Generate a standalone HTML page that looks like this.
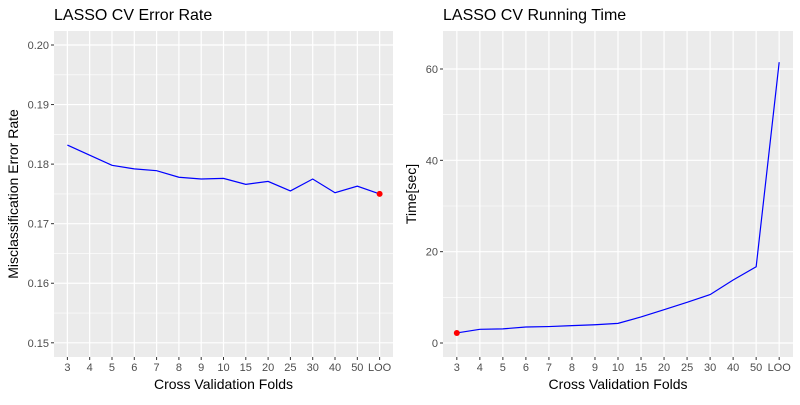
<!DOCTYPE html>
<html><head><meta charset="utf-8"><style>
body{margin:0;background:#fff;font-family:"Liberation Sans",sans-serif}
</style></head><body>
<svg id="c" width="800" height="400" xmlns="http://www.w3.org/2000/svg"></svg>
<script>
const categories=["3","4","5","6","7","8","9","10","15","20","25","30","40","50","LOO"];
const errorRate=[0.1832,0.1815,0.1798,0.1792,0.1789,0.1778,0.1775,0.1776,0.1766,0.1771,0.1755,0.1775,0.1752,0.1763,0.1750];
const runTime=[2.2,3.0,3.1,3.5,3.6,3.8,4.0,4.3,5.7,7.3,8.9,10.6,13.8,16.7,61.5];
const errTicks=[0.15,0.16,0.17,0.18,0.19,0.20];
const timeTicks=[0,20,40,60];
const svg=document.getElementById('c');
const NS='http://www.w3.org/2000/svg';
function mk(t,a,p){const e=document.createElementNS(NS,t);for(const k in a)e.setAttribute(k,a[k]);(p||svg).appendChild(e);return e;}
function panel(o){
  const g=mk('g',{});
  
  
  const n=categories.length,step=(o.x1-o.x0)/(n-1+1.2);
  const xs=i=>o.x0+step*(0.6+i);
  const ys=v=>o.y0v+(v-o.v0)*(o.y1v-o.y0v)/(o.v1-o.v0);
  const bg=mk('rect',{x:o.x0,y:o.top,width:o.x1-o.x0,height:o.bot-o.top,fill:'#ebebeb'},g);
  
  for(let i=0;i<o.ticks.length-1;i++){const m=(o.ticks[i]+o.ticks[i+1])/2;mk('line',{x1:o.x0,x2:o.x1,y1:ys(m),y2:ys(m),stroke:'#fff','stroke-width':0.6},g);}
  o.ticks.forEach(t=>{const y=ys(t);mk('line',{x1:o.x0,x2:o.x1,y1:y,y2:y,stroke:'#fff','stroke-width':1.2},g);
    mk('line',{x1:o.x0-3,x2:o.x0,y1:y,y2:y,stroke:'#333','stroke-width':1},g);
    const tx=mk('text',{x:o.x0-5,y:y+4,'text-anchor':'end','font-size':11,fill:'#4d4d4d'},g);tx.textContent=o.fmt(t);
    });
  categories.forEach((c,i)=>{const x=xs(i);mk('line',{x1:x,x2:x,y1:o.top,y2:o.bot,stroke:'#fff','stroke-width':1.2},g);
    mk('line',{x1:x,x2:x,y1:o.bot,y2:o.bot+3,stroke:'#333','stroke-width':1},g);
    const tx=mk('text',{x:x,y:o.bot+14,'text-anchor':'middle','font-size':11,fill:'#4d4d4d'},g);tx.textContent=c;
    });
  const pts=o.vals.map((v,i)=>xs(i)+','+ys(v)).join(' ');
  const pl=mk('polyline',{points:pts,fill:'none',stroke:'#0000ff','stroke-width':1.2},g);
  
  const ci=o.hi;const pt=mk('circle',{cx:xs(ci),cy:ys(o.vals[ci]),r:3,fill:'#ff0000'},g);
  
  const tt=mk('text',{x:o.x0,y:20,'font-size':16,fill:'#000'},g);tt.textContent=o.title;
  
  const xt=mk('text',{x:(o.x0+o.x1)/2,y:389,'text-anchor':'middle','font-size':14,fill:'#000'},g);xt.textContent='Cross Validation Folds';
  
  const cy=(o.top+o.bot)/2;const yt=mk('text',{x:o.ytx,y:cy,'text-anchor':'middle','font-size':14,fill:'#000',transform:`rotate(-90 ${o.ytx} ${cy})`},g);yt.textContent=o.ytitle;
  
}
panel({name:'error-rate-panel',x0:54,x1:393,top:31,bot:357,v0:0.15,v1:0.20,y0v:342.8,y1v:45,ticks:errTicks,fmt:t=>t.toFixed(2),vals:errorRate,hi:14,title:'LASSO CV Error Rate',ytitle:'Misclassification Error Rate',ytx:18});
panel({name:'running-time-panel',x0:443,x1:793,top:31,bot:357,v0:0,v1:60,y0v:343,y1v:69,ticks:timeTicks,fmt:t=>String(t),vals:runTime,hi:0,title:'LASSO CV Running Time',ytitle:'Time[sec]',ytx:416});
</script>
</body></html>
